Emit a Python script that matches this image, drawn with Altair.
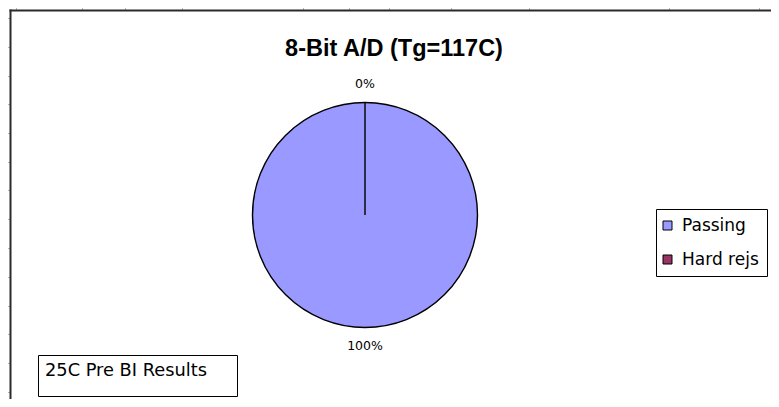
import altair as alt
import pandas as pd

# ---- data ----
categories = ["Passing", "Hard rejs"]
values = [100, 0]
colors = ["#9999FF", "#993366"]
chart_title = "8-Bit A/D (Tg=117C)"
note_text = "25C Pre BI Results"

# spreadsheet grid tick marks along the chart-area frame (view px)
col_ticks = [6, 72, 115, 172, 293, 339, 379, 441, 519, 659, 749]
row_ticks = [8, 37, 66, 94, 123, 152, 180, 209, 238, 267, 296, 324, 353, 382]

W, H = 761, 389
CX, CY, R = 355, 205, 112.5

total = sum(values)
pie_df = pd.DataFrame({
    "category": categories,
    "value": values,
    "order": list(range(len(categories))),
    "label": [f"{v / total * 100:.0f}%" for v in values],
})

frame_df = pd.DataFrame({"x": [0, W], "y": [0, H]})
axis_style = dict(labels=False, title=None, grid=False,
                  domainColor="#2b2b2b", domainWidth=2, domainCap="square",
                  tickColor="#b8b8b8", tickSize=7, tickWidth=1)

frame = alt.Chart(frame_df).mark_point(opacity=0).encode(
    x=alt.X("x:Q", scale=alt.Scale(domain=[0, W], nice=False, zero=False),
            axis=alt.Axis(orient="top", values=col_ticks, **axis_style)),
    y=alt.Y("y:Q", scale=alt.Scale(domain=[0, H], nice=False, zero=False, reverse=True),
            axis=alt.Axis(orient="left", values=row_ticks, **axis_style)),
)

pie = alt.Chart(pie_df).mark_arc(
    outerRadius=R, stroke="black", strokeWidth=1.4, x=CX, y=CY
).encode(
    theta=alt.Theta("value:Q", stack=True),
    color=alt.Color(
        "category:N",
        scale=alt.Scale(domain=categories, range=colors),
        legend=alt.Legend(
            orient="none", legendX=646, legendY=199, title=None,
            strokeColor="black", fillColor="white", padding=8,
            symbolType="square", symbolSize=81, symbolStrokeColor="black",
            symbolStrokeWidth=1, symbolOpacity=1, symbolOffset=-5,
            labelFont="DejaVu Sans", labelFontSize=17, labelColor="black",
            rowPadding=16, labelOffset=6,
        ),
    ),
    order=alt.Order("order:Q"),
)

labels = alt.Chart(pie_df).mark_text(
    radius=131, x=CX, y=CY, font="DejaVu Sans", fontSize=12.5,
    color="black", align="center", baseline="middle"
).encode(
    theta=alt.Theta("value:Q", stack=True),
    detail="category:N",
    order=alt.Order("order:Q"),
    text="label:N",
)

title_layer = alt.Chart(pd.DataFrame({"t": [chart_title]})).mark_text(
    font="Liberation Sans", fontSize=23.5, fontWeight="bold", color="black",
    align="center", baseline="middle", x=384, y=38.5
).encode(text="t:N")

note_df = pd.DataFrame({"t": [note_text]})
note_box = alt.Chart(note_df).mark_rect(
    fill="white", stroke="black", strokeWidth=1
).encode(
    x=alt.value(28.5), x2=alt.value(227.5), y=alt.value(345.5), y2=alt.value(386.5)
)
note = alt.Chart(note_df).mark_text(
    font="DejaVu Sans", fontSize=17.8, color="black",
    align="left", baseline="middle", x=35, y=360.5
).encode(text="t:N")

chart = alt.layer(frame, pie, labels, title_layer, note_box, note).properties(
    width=W, height=H,
    autosize=alt.AutoSizeParams(type="none"),
    padding={"left": 2, "top": 2, "right": 0, "bottom": 0},
).configure_view(strokeWidth=0)

chart.save("out.html", embed_options={"renderer": "svg", "actions": False})
